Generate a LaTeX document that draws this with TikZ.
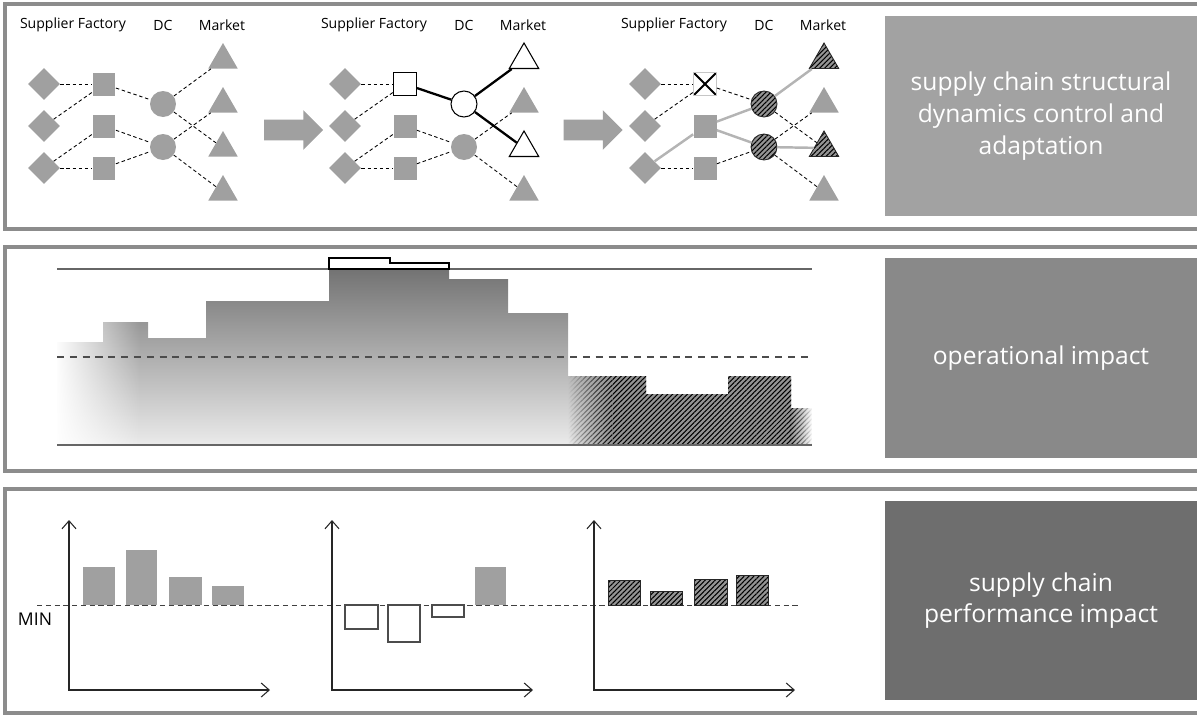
\documentclass[tikz,border=0pt]{standalone}
\usepackage{fontspec}
\setmainfont{Open Sans}
\usetikzlibrary{shapes.geometric,shapes.arrows,arrows.meta,patterns.meta,fadings}

\definecolor{shapegray}{HTML}{A0A0A0}
\definecolor{framegray}{HTML}{8C8C8C}
\definecolor{boxone}{HTML}{A2A2A2}
\definecolor{boxtwo}{HTML}{898989}
\definecolor{boxthree}{HTML}{6E6E6E}
\definecolor{linkgray}{HTML}{B4B4B4}

\tikzfading[name=fade right, left color=transparent!0, right color=transparent!100]
\tikzfading[name=fade left, left color=transparent!100, right color=transparent!0]

\tikzset{
  panel/.style={draw=framegray, line width=1.8pt},
  labelbox/.style={fill=#1, text=white, font=\fontsize{14}{18}\selectfont, align=center,
    minimum width=6.24cm, minimum height=4cm, inner sep=0pt},
  head/.style={font=\fontsize{8}{10}\selectfont},
  supplier/.style={diamond, fill=shapegray, inner sep=0pt, minimum size=0.64cm},
  factory/.style={rectangle, fill=shapegray, inner sep=0pt, minimum size=0.46cm},
  dc/.style={circle, fill=shapegray, inner sep=0pt, minimum size=0.52cm},
  market/.style={regular polygon, regular polygon sides=3, fill=shapegray, inner sep=0pt, minimum size=0.68cm},
  open/.style={fill=white, draw=black, line width=0.6pt},
  hatchbase/.style={fill=black!42},
  hatchlines/.style={pattern={Lines[angle=45,distance=2pt,line width=0.6pt]}, pattern color=black},
  hatchfill/.style={preaction={hatchbase}, hatchlines},
  hatched/.style={hatchfill, draw=black!85, line width=0.5pt},
  closed/.style={fill=white, draw=gray!45, line width=0.4pt,
    path picture={\draw[black, line width=1.1pt]
      (path picture bounding box.north west) -- (path picture bounding box.south east)
      (path picture bounding box.north east) -- (path picture bounding box.south west);}},
  link/.style={dash pattern=on 2pt off 1.5pt, line width=0.5pt},
  used/.style={line width=1.3pt},
  rerouted/.style={draw=linkgray, line width=1.4pt},
  flow/.style={single arrow, fill=shapegray, minimum height=1.18cm, inner xsep=0pt, inner ysep=0.2cm,
    single arrow head extend=0.19cm},
  axis/.style={{Straight Barb[length=1.6mm,width=2.8mm]}-{Straight Barb[length=1.6mm,width=2.8mm]},
    line width=0.6pt, black!85},
  bar/.style={fill=shapegray},
  openbar/.style={fill=white, draw=black!70, line width=0.6pt},
  minline/.style={dash pattern=on 3pt off 2pt, line width=0.5pt, black!75},
  bandline/.style={draw=black!60, line width=1pt},
  % changed elements of the second and third network
  fb1/.style={open}, db1/.style={open}, mb1/.style={open}, mb3/.style={open},
  fc1/.style={closed}, dc1/.style={hatched}, dc2/.style={hatched}, mc1/.style={hatched}, mc3/.style={hatched}
}

\begin{document}
\begin{tikzpicture}[x=0.02cm, y=-0.02cm]
  \useasboundingbox (0,0) rectangle (1197,714);

  % panels
  \draw[panel] (5,4) rectangle (1212,229);
  \draw[panel] (5,247) rectangle (1212,471);
  \draw[panel] (5,489) rectangle (1212,713);

  \node[labelbox=boxone] (label1) at (1041,116) {supply chain structural\\dynamics control and\\adaptation};
  \node[labelbox=boxtwo] (label2) at (1041,358) {operational impact};
  \node[labelbox=boxthree] (label3) at (1041,600.5) {supply chain\\performance impact};

  % supply chain networks
  \foreach \n/\o in {a/0,b/301,c/601} {
    \node[head] (lab\n1) at (73+\o,25) {Supplier Factory};
    \node[head] (lab\n2) at (163+\o,25) {DC};
    \node[head] (lab\n3) at (222+\o,25) {Market};
    \foreach \i/\y in {1/84,2/126,3/168} {
      \node[supplier] (\n s\i) at (44+\o,\y) {};
      \node[factory, f\n\i/.try] (\n f\i) at (104+\o,\y) {};
    }
    \foreach \i/\y in {1/104,2/147}
      \node[dc, d\n\i/.try] (\n d\i) at (163+\o,\y) {};
    \foreach \i/\y in {1/60,2/104,3/148,4/192}
      \node[market, m\n\i/.try] (\n m\i) at (223+\o,\y) {};
  }

  \foreach \u/\v in {s1/f1,s2/f1,s3/f2,s3/f3,f2/d2,f3/d2,d2/m2,d2/m4} {
    \draw[link] (a\u) -- (a\v);
    \draw[link] (b\u) -- (b\v);
  }
  \foreach \u/\v in {f1/d1,d1/m1,d1/m3} {
    \draw[link] (a\u) -- (a\v);
    \draw[used] (b\u) -- (b\v);
  }
  \foreach \u/\v in {s1/f1,s2/f1,s3/f3,f1/d1,f3/d2,d1/m3,d2/m2,d2/m4}
    \draw[link] (c\u) -- (c\v);
  \foreach \u/\v in {s3/f2,f2/d1,f2/d2,d1/m1,d2/m3}
    \draw[rerouted] (c\u) -- (c\v);

  \node[flow] (flow1) at (288.5,130) {};
  \node[flow] (flow2) at (588,130) {};

  % operational impact
  \shade[top color=black!55, bottom color=black!8]
    (57,445) -- (57,342) -- (103,342) -- (103,322) -- (148,322) -- (148,338) -- (206,338)
    -- (206,301) -- (329,301) -- (329,269) -- (449,269) -- (449,279) -- (508,279)
    -- (508,313) -- (568,313) -- (568,376) -- (646,376) -- (646,394) -- (728,394)
    -- (728,376) -- (791,376) -- (791,445) -- cycle;
  \fill[white, path fading=fade right] (55,300) rectangle (140,447);
  \fill[hatchfill]
    (612,445) -- (612,376) -- (646,376) -- (646,394) -- (728,394) -- (728,376)
    -- (791,376) -- (791,445) -- cycle;
  \fill[hatchbase, path fading=fade left] (568,376) rectangle (612.5,445);
  \fill[hatchlines, path fading=fade left] (568,376) rectangle (612.5,445);
  \fill[hatchbase, path fading=fade right] (790.5,408) rectangle (812,445);
  \fill[hatchlines, path fading=fade right] (790.5,408) rectangle (812,445);

  \draw[bandline] (57,269) -- (812,269);
  \draw[bandline] (57,445) -- (812,445);
  \draw[black!70, line width=1.6pt, dash pattern=on 4pt off 3.3pt] (57,357) -- (812,357);
  \draw[black, line width=0.6pt, fill=white]
    (329,269) -- (329,258) -- (390,258) -- (390,263) -- (449,263) -- (449,269) -- cycle;

  % performance impact
  \draw[minline] (37,605) -- (798,605);
  \node[font=\fontsize{10}{12}\selectfont] (min) at (35,619) {MIN};
  \foreach \o in {69,332,594}
    \draw[axis] (\o,520) -- (\o,690) -- (\o+201,690);

  \foreach \l/\r/\t in {83/115/567,126/157/550,169/202/577,212/244/586,475/506/567}
    \fill[bar] (\l,605) rectangle (\r,\t);
  \foreach \l/\r/\t in {345/378/629,388/420/642,432/464/617}
    \draw[openbar] (\l,605) rectangle (\r,\t);
  \foreach \l/\r/\t in {608/640/580,650/682/591,694/727/579,736/768/575}
    \draw[hatched] (\l,605) rectangle (\r,\t);
\end{tikzpicture}
\end{document}
